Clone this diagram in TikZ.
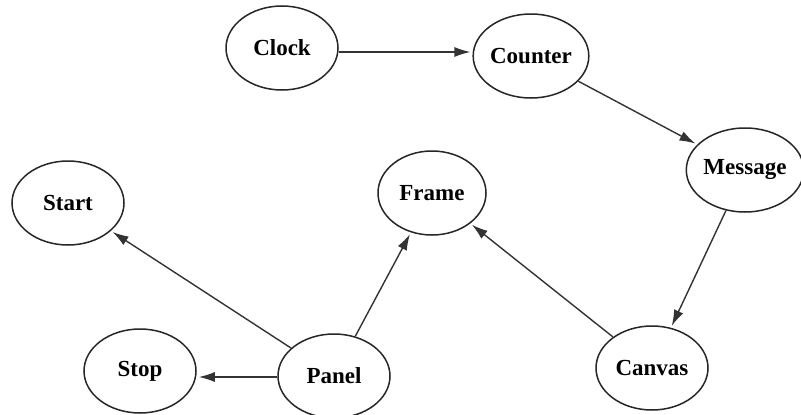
\documentclass[tikz,border=0pt]{standalone}
\usepackage{fontspec}
\setmainfont{Liberation Serif}
\usetikzlibrary{shapes.geometric,arrows.meta}
\begin{document}
\begin{tikzpicture}[x=1pt,y=-1pt,
  state/.style={ellipse,draw=black!85,line width=1.5pt,inner sep=0pt,
    minimum width=112pt,minimum height=84pt,
    font=\bfseries\fontsize{23}{23}\selectfont},
  link/.style={draw=black!80,line width=1.4pt,
    -{Latex[length=16pt,width=10pt]},shorten >=2pt}]
\useasboundingbox[fill=white] (0,0) rectangle (801,415);
\node[state] (clock)   at (282,48)  {Clock};
\node[state] (counter) at (531,56)  {Counter};
\node[state,minimum width=106pt] (message) at (745,170) {Message};
\node[state] (start)   at (68,203)  {Start};
\node[state,minimum width=108pt] (frame) at (432,193) {Frame};
\node[state] (canvas)  at (652,368) {Canvas};
\node[state] (stop)    at (140,371) {Stop};
\node[state] (panel)   at (334,376) {Panel};
\draw[link] ([yshift=-4pt]clock.east) -- ([yshift=4pt]counter.west);
\draw[link] (counter) -- (message);
\draw[link] (message) -- (canvas);
\draw[link] (canvas) -- (frame);
\draw[link] (panel) -- (frame);
\draw[link] (panel) -- (start);
\draw[link] ([yshift=-1pt]panel.west) -- ([yshift=-6pt]stop.east);
\end{tikzpicture}
\end{document}
